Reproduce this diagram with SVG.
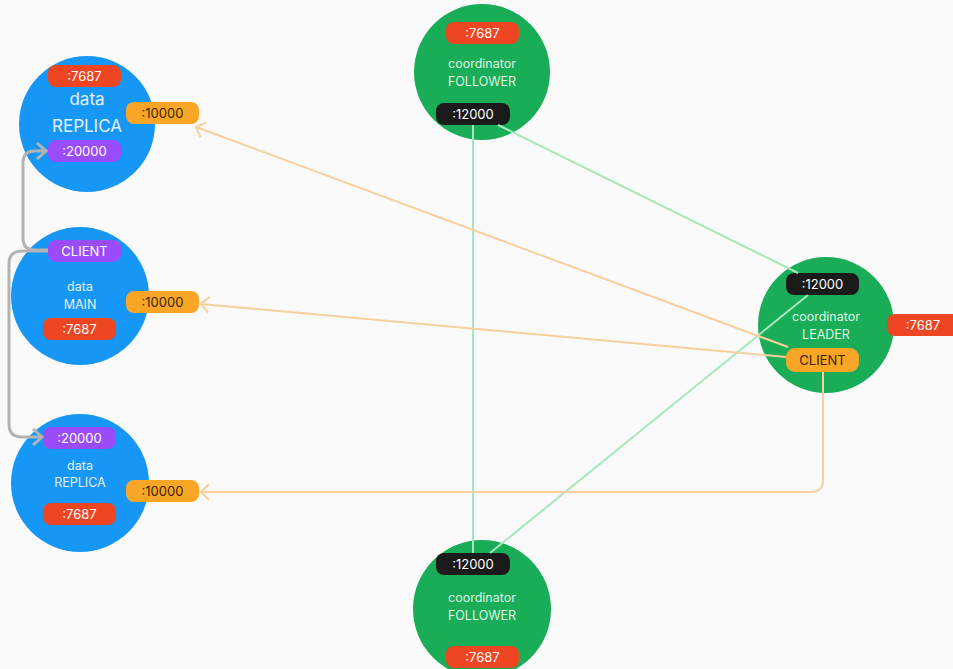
<svg xmlns="http://www.w3.org/2000/svg" width="953" height="669" viewBox="0 0 953 669">
<defs>
<style>
.bg{fill:#fafafa}
.blue{fill:#1797f5}
.green{fill:#19ad58}
.red{fill:#ee4522}
.org{fill:#f9a526}
.pur{fill:#9a4cf8}
.blk{fill:#1b1b1b}
text{font-family:Inter,"Noto Sans","Liberation Sans",sans-serif;text-anchor:middle}
.bt{font-size:13px;fill:#ffffff}
.bd{font-size:13px;fill:#3a2508}
.nt{font-size:12.5px;fill:#e4f0fb}
.ntg{font-size:12.5px;fill:#dff3e6}
.big{font-size:17px;fill:#e4f0fb}
.cg{fill:none;stroke:#a6e8bd;stroke-width:2}
.co{fill:none;stroke:#f8cf9e;stroke-width:2}
.cy{fill:none;stroke:#b3b3b3;stroke-width:3}
</style>
<marker id="ao" markerUnits="userSpaceOnUse" markerWidth="14" markerHeight="18" refX="11" refY="9" orient="auto" viewBox="0 0 14 18">
<path d="M3,1 L11,9 L3,17" fill="none" stroke="#f8cf9e" stroke-width="2"/>
</marker>
<marker id="ay" markerUnits="userSpaceOnUse" markerWidth="14" markerHeight="18" refX="12" refY="9" orient="auto" viewBox="0 0 14 18">
<path d="M3,1 L12,9 L3,17" fill="none" stroke="#b3b3b3" stroke-width="3"/>
</marker>
</defs>
<rect class="bg" x="0" y="0" width="953" height="669"/>

<g id="replica-top">
<circle class="blue" cx="87" cy="124" r="68"/>
<text class="big" x="87" y="105">data</text>
<text class="big" x="87" y="132">REPLICA</text>
<rect class="red" x="48" y="65" width="73" height="22" rx="8"/>
<text class="bt" x="84.5" y="80.5">:7687</text>
<rect class="org" x="126" y="102" width="73" height="22" rx="8"/>
<text class="bd" x="162.5" y="117.5">:10000</text>
<rect class="pur" x="48" y="140" width="73" height="22" rx="8"/>
<text class="bt" x="84.5" y="155.5">:20000</text>
</g>

<g id="main">
<circle class="blue" cx="80" cy="296" r="69"/>
<text class="nt" x="80" y="291">data</text>
<text class="nt" x="80" y="309">MAIN</text>
<rect class="pur" x="48" y="240" width="73" height="22" rx="8"/>
<text class="bt" x="84.5" y="255.5">CLIENT</text>
<rect class="red" x="43" y="318" width="73" height="22" rx="8"/>
<text class="bt" x="79.5" y="333.5">:7687</text>
<rect class="org" x="126" y="291" width="73" height="22" rx="8"/>
<text class="bd" x="162.5" y="306.5">:10000</text>
</g>

<g id="replica-bottom">
<circle class="blue" cx="80" cy="483" r="69"/>
<text class="nt" x="80" y="470">data</text>
<text class="nt" x="80" y="487">REPLICA</text>
<rect class="pur" x="43" y="427" width="73" height="22" rx="8"/>
<text class="bt" x="79.5" y="442.5">:20000</text>
<rect class="red" x="43" y="503" width="73" height="22" rx="8"/>
<text class="bt" x="79.5" y="518.5">:7687</text>
<rect class="org" x="126" y="480" width="73" height="22" rx="8"/>
<text class="bd" x="162.5" y="495.5">:10000</text>
</g>

<g id="follower-top">
<circle class="green" cx="482" cy="72" r="68"/>
<text class="ntg" x="482" y="68">coordinator</text>
<text class="ntg" x="482" y="86">FOLLOWER</text>
<rect class="red" x="446" y="22" width="73" height="22" rx="8"/>
<text class="bt" x="482.5" y="37.5">:7687</text>
<rect class="blk" x="436" y="103" width="74" height="22" rx="8"/>
<text class="bt" x="473" y="118.5">:12000</text>
</g>

<g id="leader">
<circle class="green" cx="826" cy="325" r="68"/>
<text class="ntg" x="826" y="321">coordinator</text>
<text class="ntg" x="826" y="339">LEADER</text>
<rect class="blk" x="786" y="273" width="73" height="22" rx="8"/>
<text class="bt" x="822.5" y="288.5">:12000</text>
<rect class="org" x="786" y="348" width="73" height="24" rx="9"/>
<text class="bd" x="822.5" y="364.5">CLIENT</text>
<rect class="red" x="887" y="314" width="75" height="22" rx="8"/>
<text class="bt" x="923" y="329.5">:7687</text>
</g>

<g id="follower-bottom">
<circle class="green" cx="482" cy="609" r="69"/>
<text class="ntg" x="482" y="602">coordinator</text>
<text class="ntg" x="482" y="620">FOLLOWER</text>
<rect class="blk" x="436" y="553" width="74" height="22" rx="8"/>
<text class="bt" x="473" y="568.5">:12000</text>
<rect class="red" x="446" y="646" width="73" height="22" rx="8"/>
<text class="bt" x="482.5" y="661.5">:7687</text>
</g>

<g id="connectors">
<line class="cg" x1="473" y1="125" x2="473" y2="553"/>
<line class="cg" x1="498" y1="125" x2="798" y2="273"/>
<line class="cg" x1="808" y1="295" x2="490" y2="553"/>
<path class="co" d="M788,347 L196,127" marker-end="url(#ao)"/>
<path class="co" d="M786,357 L201,304" marker-end="url(#ao)"/>
<path class="co" d="M823,372 V480 Q823,492 811,492 H201" marker-end="url(#ao)"/>
<path class="cy" d="M48,250 H35 Q23,250 23,238 V163 Q23,151 35,151 H46" marker-end="url(#ay)"/>
<path class="cy" d="M48,251 H22 Q9,251 9,264 V424 Q9,437 22,437 H42" marker-end="url(#ay)"/>
</g>
</svg>
